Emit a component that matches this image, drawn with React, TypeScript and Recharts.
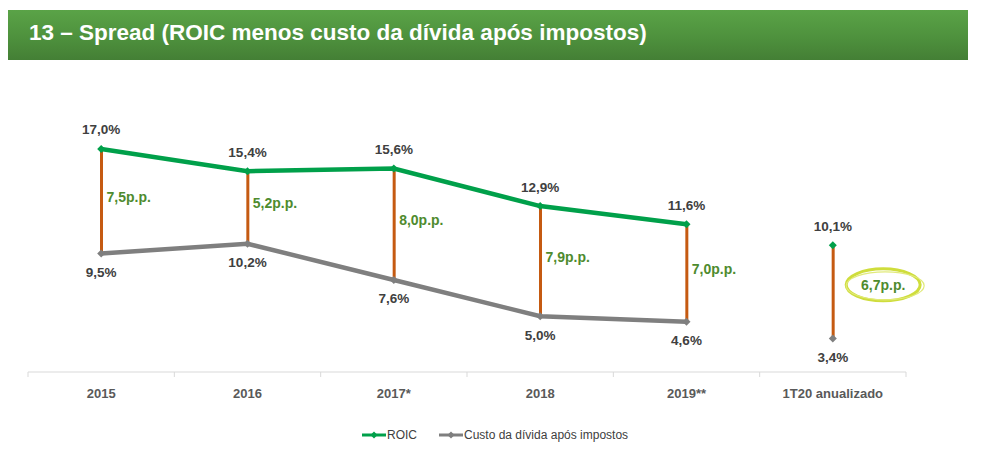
import React from "react";
import { ComposedChart, Line, Bar, XAxis, YAxis, LabelList } from "recharts";

const categories = ["2015", "2016", "2017*", "2018", "2019**", "1T20 anualizado"];
const roicValues = [17.0, 15.4, 15.6, 12.9, 11.6, 10.1];
const custoValues = [9.5, 10.2, 7.6, 5.0, 4.6, 3.4];
const spreadLabels = ["7,5p.p.", "5,2p.p.", "8,0p.p.", "7,9p.p.", "7,0p.p.", "6,7p.p."];
const separateIndex = 5; // 1T20 shown as standalone points

const GREEN = "#00A04A";
const GRAY = "#7F7F7F";
const ORANGE = "#C55A11";
const LABEL = "#404040";
const SPREAD_TEXT = "#4E8B2E";
const FONT = "'Liberation Sans', Arial, sans-serif";

const fmt = (v: number) => v.toFixed(1).replace(".", ",") + "%";

const data = categories.map((cat, i) => ({
  cat,
  roic: i === separateIndex ? null : roicValues[i],
  roicSolo: i === separateIndex ? roicValues[i] : null,
  custo: i === separateIndex ? null : custoValues[i],
  custoSolo: i === separateIndex ? custoValues[i] : null,
  spread: [custoValues[i], roicValues[i]],
  spreadLabel: spreadLabels[i],
}));

const W = 982;
const H = 453;
const M = { top: 135, right: 76, left: 28, bottom: 51 };
const band = (W - M.left - M.right) / categories.length;

const makeDot = (color: string) => (props: any) => {
  const { cx, cy, index } = props;
  if (cx == null || cy == null || isNaN(cy)) return <g key={`d${index}`} />;
  const s = 4;
  return (
    <path
      key={`d${index}`}
      d={`M${cx},${cy - s} L${cx + s},${cy} L${cx},${cy + s} L${cx - s},${cy} Z`}
      fill={color}
    />
  );
};

const valueLabel = (dy: number) => (props: any) => {
  const { x, y, value, index } = props;
  if (value == null || y == null) return null;
  return (
    <text
      key={`l${index}`}
      x={x}
      y={y + dy}
      textAnchor="middle"
      dominantBaseline="central"
      fontFamily={FONT}
      fontWeight="bold"
      fontSize={13.5}
      fill={LABEL}
    >
      {fmt(value)}
    </text>
  );
};

const spreadLabelRenderer = (props: any) => {
  const { x, y, width, height, index } = props;
  const label = spreadLabels[index];
  const cx = x + width / 2;
  const cy = y + height / 2;
  if (index === separateIndex) {
    const ex = cx + 50;
    const ey = cy - 7;
    return (
      <g key={`s${index}`}>
        <ellipse cx={ex} cy={ey} rx={37} ry={16} fill="none" stroke="#CFDD3C" strokeWidth={3} />
        <ellipse cx={ex + 2} cy={ey + 1} rx={39} ry={14} fill="none" stroke="#E1EA7A" strokeWidth={1.2} />
        <text
          x={ex}
          y={ey}
          textAnchor="middle"
          dominantBaseline="central"
          fontFamily={FONT}
          fontWeight="bold"
          fontSize={14}
          fill={SPREAD_TEXT}
        >
          {label}
        </text>
      </g>
    );
  }
  return (
    <text
      key={`s${index}`}
      x={cx + 5}
      y={cy - 4}
      textAnchor="start"
      dominantBaseline="central"
      fontFamily={FONT}
      fontWeight="bold"
      fontSize={14}
      fill={SPREAD_TEXT}
    >
      {label}
    </text>
  );
};

const CategoryTick = (props: any) => {
  const { x, payload, index } = props;
  const half = band / 2;
  const axisY = H - M.bottom - 30;
  return (
    <g>
      <line x1={x - half} y1={axisY} x2={x - half} y2={axisY + 5} stroke="#D9D9D9" />
      {index === categories.length - 1 && (
        <line x1={x + half} y1={axisY} x2={x + half} y2={axisY + 5} stroke="#D9D9D9" />
      )}
      <text
        x={x}
        y={axisY + 21}
        textAnchor="middle"
        dominantBaseline="central"
        fontFamily={FONT}
        fontWeight="bold"
        fontSize={13}
        fill="#595959"
      >
        {payload.value}
      </text>
    </g>
  );
};

const LegendIcon = ({ color }: { color: string }) => (
  <svg width={24} height={10} style={{ display: "inline-block", verticalAlign: "middle" }}>
    <line x1={0} y1={5} x2={24} y2={5} stroke={color} strokeWidth={3} />
    <path d="M12,1.5 L15.5,5 L12,8.5 L8.5,5 Z" fill={color} />
  </svg>
);

export default function App() {
  return (
    <div style={{ position: "absolute", left: 0, top: 0, width: W, height: H, background: "#fff" }}>
      <div
        style={{
          position: "absolute",
          left: 8,
          top: 10,
          width: 960,
          height: 50,
          background: "linear-gradient(180deg, #5aa347 0%, #4e913d 55%, #447f35 100%)",
        }}
      />
      <div
        style={{
          position: "absolute",
          left: 29,
          top: 10,
          height: 50,
          lineHeight: "46px",
          color: "#fff",
          fontFamily: FONT,
          fontWeight: "bold",
          fontSize: 22.5,
          whiteSpace: "nowrap",
        }}
      >
        13 – Spread (ROIC menos custo da dívida após impostos)
      </div>

      <div style={{ position: "absolute", left: 0, top: 0 }}>
        <ComposedChart width={W} height={H} data={data} margin={M}>
          <XAxis
            dataKey="cat"
            axisLine={{ stroke: "#D9D9D9" }}
            tickLine={false}
            tick={<CategoryTick />}
            height={30}
            interval={0}
          />
          <YAxis hide domain={[1, 18]} allowDataOverflow />
          <Bar dataKey="spread" barSize={3} fill={ORANGE} isAnimationActive={false}>
            <LabelList dataKey="spreadLabel" content={spreadLabelRenderer} />
          </Bar>
          <Line
            dataKey="custo"
            stroke={GRAY}
            strokeWidth={4.5}
            dot={makeDot(GRAY)}
            activeDot={false}
            isAnimationActive={false}
          >
            <LabelList dataKey="custo" content={valueLabel(19)} />
          </Line>
          <Line
            dataKey="custoSolo"
            stroke={GRAY}
            strokeWidth={4.5}
            dot={makeDot(GRAY)}
            activeDot={false}
            isAnimationActive={false}
          >
            <LabelList dataKey="custoSolo" content={valueLabel(19)} />
          </Line>
          <Line
            dataKey="roic"
            stroke={GREEN}
            strokeWidth={4.5}
            dot={makeDot(GREEN)}
            activeDot={false}
            isAnimationActive={false}
          >
            <LabelList dataKey="roic" content={valueLabel(-19)} />
          </Line>
          <Line
            dataKey="roicSolo"
            stroke={GREEN}
            strokeWidth={4.5}
            dot={makeDot(GREEN)}
            activeDot={false}
            isAnimationActive={false}
          >
            <LabelList dataKey="roicSolo" content={valueLabel(-19)} />
          </Line>
        </ComposedChart>
      </div>

      <div
        style={{
          position: "absolute",
          left: 362,
          top: 428,
          fontFamily: FONT,
          fontSize: 12,
          color: LABEL,
          whiteSpace: "nowrap",
          display: "flex",
          alignItems: "center",
        }}
      >
        <LegendIcon color={GREEN} />
        <span style={{ marginLeft: 1 }}>ROIC</span>
        <span style={{ display: "inline-block", width: 22 }} />
        <LegendIcon color={GRAY} />
        <span style={{ marginLeft: 1 }}>Custo da dívida após impostos</span>
      </div>
    </div>
  );
}
